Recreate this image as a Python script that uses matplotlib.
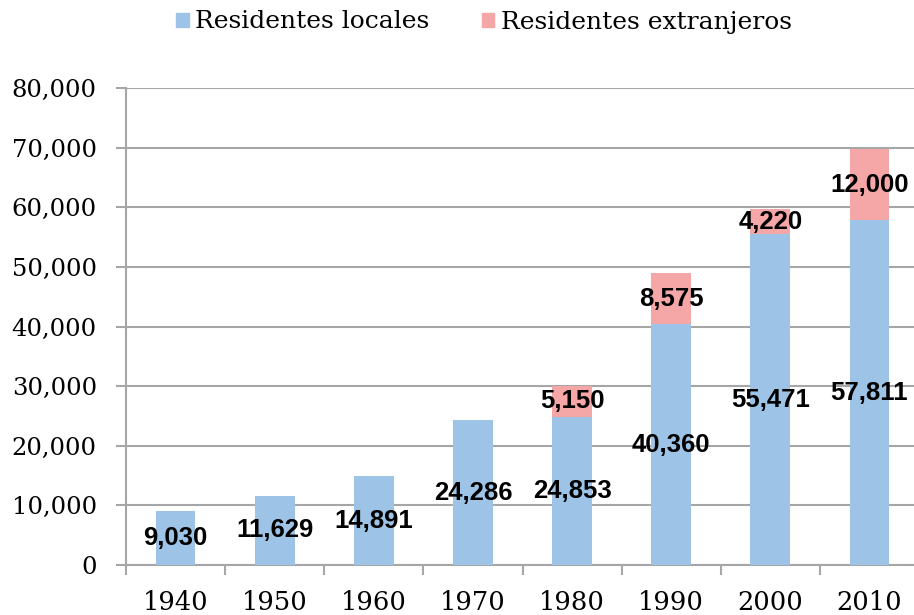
import matplotlib
matplotlib.use("Agg")
import matplotlib.pyplot as plt
from matplotlib.patches import Patch

years = ["1940", "1950", "1960", "1970", "1980", "1990", "2000", "2010"]
locales = [9030, 11629, 14891, 24286, 24853, 40360, 55471, 57811]
extranjeros = [0, 0, 0, 0, 5150, 8575, 4220, 12000]
yticks = [0, 10000, 20000, 30000, 40000, 50000, 60000, 70000, 80000]

blue = "#9DC3E6"
pink = "#F4A7A6"
grid_c = "#A6A6A6"
serif = ["DejaVu Serif"]

fig = plt.figure(figsize=(9.14, 6.15), dpi=100)
ax = fig.add_axes([126/914, 50/615, 793/914, 477/615])

x = list(range(len(years)))
w = 0.4
ax.bar(x, locales, width=w, color=blue, zorder=3)
ax.bar(x, extranjeros, width=w, bottom=locales, color=pink, zorder=3)

for i in x:
    ax.text(i, locales[i] / 2, f"{locales[i]:,}", ha="center", va="center",
            fontsize=18.5, fontweight="bold", family="Liberation Sans", zorder=4)
    if extranjeros[i] > 0:
        ax.text(i, locales[i] + extranjeros[i] / 2, f"{extranjeros[i]:,}",
                ha="center", va="center", fontsize=18.5, fontweight="bold",
                family="Liberation Sans", zorder=4)

ax.set_xlim(-0.5, len(years) - 0.5)
ax.set_ylim(0, 80000)
ax.set_yticks(yticks)
ax.set_yticklabels([f"{v:,}" for v in yticks], family=serif, fontsize=17.5)
ax.yaxis.grid(True, color=grid_c, linewidth=1.5, zorder=0)
ax.set_axisbelow(True)

ax.set_xticks([i + 0.5 for i in range(-1, len(years))], minor=False)
ax.set_xticklabels([])
ax.set_xticks(x, minor=True)
ax.set_xticklabels(years, minor=True, family=serif, fontsize=18.5)
ax.tick_params(axis="x", which="minor", length=0, pad=18)
ax.tick_params(axis="x", which="major", length=7, width=1.5, color=grid_c)
ax.tick_params(axis="y", length=7, width=1.5, color=grid_c, pad=14)

for s in ["top", "right"]:
    ax.spines[s].set_visible(False)
for s in ["left", "bottom"]:
    ax.spines[s].set_color(grid_c)
    ax.spines[s].set_linewidth(1.5)

handles = [Patch(color=blue, label="Residentes locales"),
           Patch(color=pink, label="Residentes extranjeros")]
fig.legend(handles=handles, loc="center", bbox_to_anchor=(484/914, 1 - 22/615),
           ncol=2, frameon=False, prop={"family": serif, "size": 18},
           handlelength=0.5, handleheight=0.5, handletextpad=0.25, columnspacing=2.1)

fig.savefig("out.png", dpi=100)
